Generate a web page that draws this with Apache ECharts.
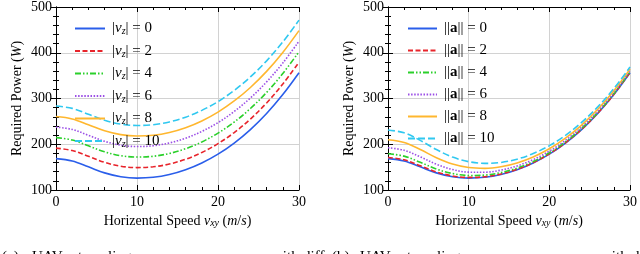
<!DOCTYPE html>
<html><head><meta charset="utf-8">
<script src="https://cdn.jsdelivr.net/npm/echarts@6/dist/echarts.min.js"></script>
<style>html,body{margin:0;padding:0;background:#fff}#c{width:640px;height:254px}</style>
</head><body><div id="c"></div>
<script>
// Horizontal speed samples (m/s)
const speeds = [0, 2, 4, 6, 8, 10, 12, 14, 16, 18, 20, 22, 24, 26, 28, 30];
const levels = [0, 2, 4, 6, 8, 10];
const xTicks = [0, 10, 20, 30];
const yTicks = [100, 200, 300, 400, 500];

// (a) different vertical speeds |v_z|
const vz0  = [168.5, 163.4, 150.6, 137.4, 129.0, 126.0, 127.7, 133.8, 144.2, 159.0, 178.3, 202.6, 232.1, 267.3, 308.6, 356.3];
const vz2  = [191.5, 186.4, 173.6, 160.4, 152.0, 149.0, 150.7, 156.8, 167.2, 182.0, 201.3, 225.6, 255.1, 290.3, 331.6, 379.3];
const vz4  = [214.5, 209.4, 196.6, 183.4, 175.0, 172.0, 173.7, 179.8, 190.2, 205.0, 224.3, 248.6, 278.1, 313.3, 354.6, 402.3];
const vz6  = [237.5, 232.4, 219.6, 206.4, 198.0, 195.0, 196.7, 202.8, 213.2, 228.0, 247.3, 271.6, 301.1, 336.3, 377.6, 425.3];
const vz8  = [260.5, 255.4, 242.6, 229.4, 221.0, 218.0, 219.7, 225.8, 236.2, 251.0, 270.3, 294.6, 324.1, 359.3, 400.6, 448.3];
const vz10 = [283.5, 278.4, 265.6, 252.4, 244.0, 241.0, 242.7, 248.8, 259.2, 274.0, 293.3, 317.6, 347.1, 382.3, 423.6, 471.3];

// (b) different accelerations ||a||
const acc0  = [168.5, 163.4, 150.6, 137.4, 129.0, 126.0, 127.7, 133.8, 144.2, 159.0, 178.3, 202.6, 232.1, 267.3, 308.6, 356.3];
const acc2  = [171.2, 166.0, 153.1, 139.6, 130.8, 127.5, 129.0, 135.0, 145.2, 159.8, 179.1, 203.2, 232.7, 267.9, 309.1, 356.8];
const acc4  = [179.4, 174.0, 160.5, 145.9, 136.0, 131.8, 132.7, 138.1, 148.0, 162.3, 181.3, 205.3, 234.6, 269.6, 310.7, 358.3];
const acc6  = [192.4, 186.8, 172.5, 156.3, 144.7, 139.0, 138.8, 143.4, 152.6, 166.4, 185.0, 208.6, 237.7, 272.4, 313.3, 360.8];
const acc8  = [209.9, 203.9, 188.6, 170.6, 156.7, 149.1, 147.3, 150.8, 159.1, 172.2, 190.2, 213.4, 242.0, 276.4, 317.1, 364.2];
const acc10 = [231.2, 225.0, 208.5, 188.4, 171.9, 161.9, 158.2, 160.2, 167.4, 179.6, 196.9, 219.4, 247.6, 281.6, 321.8, 368.7];

const vzSets = [vz0, vz2, vz4, vz6, vz8, vz10];
const accSets = [acc0, acc2, acc4, acc6, acc8, acc10];

// caption words (only their top edge is visible in the frame)
const capA = [['(a)', 2], ['UAV', 32], ['traveling', 78], ['power', 175], ['with', 272], ['diff', 303]];
const capB = [['(b)', 332], ['UAV', 360], ['traveling', 407], ['power', 504], ['with', 601], ['diff', 632]];

const F = 'Liberation Serif';
const colors = ['#2a5eea', '#e8242b', '#2bd02b', '#9b4ee6', '#ffb72e', '#30c8f0'];
const dashes = ['solid', [5, 2.5], [6, 2, 1.5, 2, 1.5, 2], [1.5, 1.6], 'solid', [7, 3]];
const FS = 14;

const chart = echarts.init(document.getElementById('c'));

function tickCfg() {
  return {
    axisLine: { show: true, lineStyle: { color: '#000', width: 1 } },
    axisTick: { show: true, inside: true, length: 5, lineStyle: { color: '#000' } },
    minorTick: { show: true, splitNumber: 5, length: 3, lineStyle: { color: '#000' } }
  };
}
function xAxes(g) {
  return [Object.assign({
    gridIndex: g, type: 'value', min: xTicks[0], max: xTicks[xTicks.length - 1], interval: 10, position: 'bottom',
    axisLabel: { fontFamily: F, fontSize: FS, color: '#000', margin: 5 },
    splitLine: { show: true, lineStyle: { color: '#d2d2d2', width: 1 } },
    name: 'Horizental Speed {i|v}{sub|xy} ({i|m}/{i|s})', nameLocation: 'middle', nameGap: 20,
    nameTextStyle: { fontFamily: F, fontSize: FS, color: '#000',
      rich: { i: { fontFamily: F, fontSize: FS, fontStyle: 'italic', color: '#000' },
              sub: { fontFamily: F, fontSize: 10, fontStyle: 'italic', color: '#000', padding: [5, 0, 0, 0] } } }
  }, tickCfg()), Object.assign({
    gridIndex: g, type: 'value', min: xTicks[0], max: xTicks[xTicks.length - 1], interval: 10, position: 'top',
    axisLabel: { show: false }, splitLine: { show: false }
  }, tickCfg())];
}
function yAxes(g) {
  return [Object.assign({
    gridIndex: g, type: 'value', min: yTicks[0], max: yTicks[yTicks.length - 1], interval: 100, position: 'left',
    axisLabel: { fontFamily: F, fontSize: FS, color: '#000', margin: 4 },
    splitLine: { show: true, lineStyle: { color: '#d2d2d2', width: 1 } },
    name: 'Required Power ({i|W})', nameLocation: 'middle', nameGap: 32,
    nameTextStyle: { fontFamily: F, fontSize: FS, color: '#000',
      rich: { i: { fontFamily: F, fontSize: FS, fontStyle: 'italic', color: '#000' } } }
  }, tickCfg()), Object.assign({
    gridIndex: g, type: 'value', min: yTicks[0], max: yTicks[yTicks.length - 1], interval: 100, position: 'right',
    axisLabel: { show: false }, splitLine: { show: false }
  }, tickCfg())];
}

const series = [];
const leftNames = [], rightNames = [];
levels.forEach((lv, i) => {
  const n = 'vz' + lv; leftNames.push(n);
  series.push({ name: n, type: 'line', xAxisIndex: 0, yAxisIndex: 0, smooth: 0.35, showSymbol: false, symbol: 'none',
    data: speeds.map((s, k) => [s, vzSets[i][k]]),
    lineStyle: { color: colors[i], width: 1.6, type: dashes[i] }, itemStyle: { color: colors[i] }, z: 2 });
});
levels.forEach((lv, i) => {
  const n = 'acc' + lv; rightNames.push(n);
  series.push({ name: n, type: 'line', xAxisIndex: 2, yAxisIndex: 2, smooth: 0.35, showSymbol: false, symbol: 'none',
    data: speeds.map((s, k) => [s, accSets[i][k]]),
    lineStyle: { color: colors[i], width: 1.6, type: dashes[i] }, itemStyle: { color: colors[i] }, z: 2 });
});

const legendText = {
  fontFamily: F, fontSize: 15, color: '#000', padding: [0, 0, 0, 2],
  rich: {
    i: { fontFamily: F, fontSize: 15, fontStyle: 'italic', color: '#000' },
    sub: { fontFamily: F, fontSize: 10, fontStyle: 'italic', color: '#000', padding: [6, 0, 0, 0] },
    b: { fontFamily: F, fontSize: 15, fontWeight: 'bold', color: '#000' },
    n: { fontFamily: F, fontSize: 15, color: '#000' }
  }
};

const capStyle = { fontFamily: F, fontSize: 15, fill: '#000' };
const graphics = [];
capA.concat(capB).forEach(([t, x]) => graphics.push({ type: 'text', left: x, top: 250, style: Object.assign({ text: t }, capStyle) }));

const BAR = '|';
chart.setOption({
  animation: false,
  backgroundColor: '#fff',
  grid: [
    { left: 56, right: 341, top: 7, bottom: 64 },
    { left: 388, right: 8, top: 7, bottom: 64 }
  ],
  xAxis: [...xAxes(0), ...xAxes(1)],
  yAxis: [...yAxes(0), ...yAxes(1)],
  legend: [
    { orient: 'vertical', left: 69, top: 16, itemWidth: 30, itemHeight: 14, itemGap: 7, data: leftNames,
      itemStyle: { opacity: 0 },
      formatter: n => '{n|' + BAR + '}{i|v}{sub|z}{n|' + BAR + ' = ' + n.slice(2) + '}', textStyle: legendText, selectedMode: false },
    { orient: 'vertical', left: 402, top: 16, itemWidth: 29, itemHeight: 14, itemGap: 7, data: rightNames,
      itemStyle: { opacity: 0 },
      formatter: n => '{n|' + BAR + BAR + '}{b|a}{n|' + BAR + BAR + ' = ' + n.slice(3) + '}', textStyle: legendText, selectedMode: false }
  ],
  graphic: graphics,
  series: series
});
</script></body></html>
